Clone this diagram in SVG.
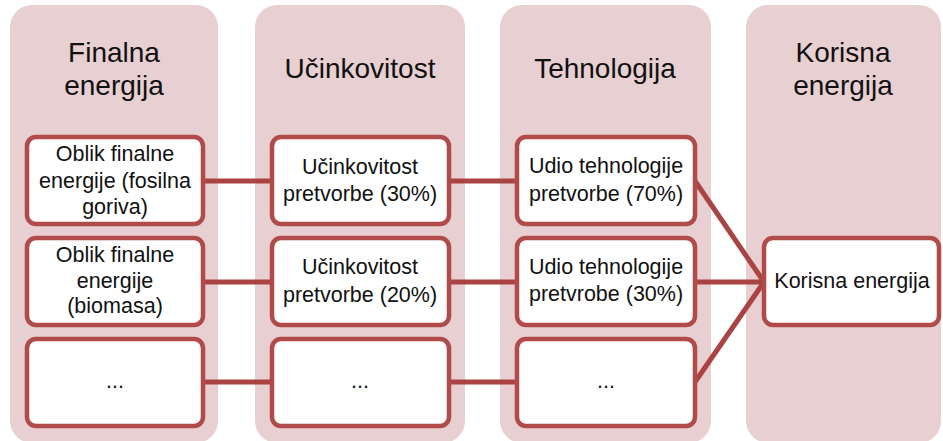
<svg xmlns="http://www.w3.org/2000/svg" width="943" height="441" viewBox="0 0 943 441">
<style>
.col{fill:#E8CFD1;}
.box{fill:#FFFFFF;stroke:#B04B49;stroke-width:4.5;}
.hd{font-family:"Liberation Sans",Arial,sans-serif;font-size:28px;fill:#111;text-anchor:middle;}
.tx{font-family:"Liberation Sans",Arial,sans-serif;font-size:21.5px;fill:#111;text-anchor:middle;}
.cn{stroke:#A94442;stroke-width:5;fill:none;stroke-linecap:butt;}
</style>
<rect width="943" height="441" fill="#FFFFFF"/>
<g id="col-finalna">
<rect class="col" x="10" y="5" width="208" height="438" rx="22"/>
<text class="hd" x="114" y="62">Finalna</text>
<text class="hd" x="114" y="95">energija</text>
</g>
<g id="col-ucinkovitost">
<rect class="col" x="255" y="5" width="210" height="438" rx="22"/>
<text class="hd" x="360" y="78">Učinkovitost</text>
</g>
<g id="col-tehnologija">
<rect class="col" x="500" y="5" width="211" height="438" rx="22"/>
<text class="hd" x="605" y="78">Tehnologija</text>
</g>
<g id="col-korisna">
<rect class="col" x="746" y="5" width="195" height="438" rx="22"/>
<text class="hd" x="843" y="62">Korisna</text>
<text class="hd" x="843" y="95">energija</text>
</g>
<g id="connectors">
<line class="cn" x1="203" y1="181" x2="272" y2="181"/>
<line class="cn" x1="449" y1="181" x2="516" y2="181"/>
<line class="cn" x1="203" y1="282" x2="272" y2="282"/>
<line class="cn" x1="449" y1="282" x2="516" y2="282"/>
<line class="cn" x1="203" y1="382" x2="272" y2="382"/>
<line class="cn" x1="449" y1="382" x2="516" y2="382"/>
<line class="cn" x1="695" y1="181" x2="764" y2="282"/>
<line class="cn" x1="695" y1="282" x2="764" y2="282"/>
<line class="cn" x1="695" y1="382" x2="764" y2="282"/>
</g>
<g id="n-fosilna">
<rect class="box" x="27" y="137" width="176" height="87" rx="9"/>
<text class="tx" x="115" y="161">Oblik finalne</text>
<text class="tx" x="115" y="188">energije (fosilna</text>
<text class="tx" x="115" y="214">goriva)</text>
</g>
<g id="n-biomasa">
<rect class="box" x="27" y="238" width="176" height="87" rx="9"/>
<text class="tx" x="115" y="262">Oblik finalne</text>
<text class="tx" x="115" y="288">energije</text>
<text class="tx" x="115" y="313">(biomasa)</text>
</g>
<g id="n-final-more">
<rect class="box" x="27" y="339" width="176" height="87" rx="9"/>
<text class="tx" x="115" y="388">...</text>
</g>
<g id="n-ucink30">
<rect class="box" x="272" y="137" width="177" height="87" rx="9"/>
<text class="tx" x="360" y="174">Učinkovitost</text>
<text class="tx" x="360" y="201">pretvorbe (30%)</text>
</g>
<g id="n-ucink20">
<rect class="box" x="272" y="238" width="177" height="87" rx="9"/>
<text class="tx" x="360" y="274">Učinkovitost</text>
<text class="tx" x="360" y="302">pretvorbe (20%)</text>
</g>
<g id="n-ucink-more">
<rect class="box" x="272" y="339" width="177" height="87" rx="9"/>
<text class="tx" x="360" y="388">...</text>
</g>
<g id="n-teh70">
<rect class="box" x="517" y="137" width="178" height="87" rx="9"/>
<text class="tx" x="606" y="173">Udio tehnologije</text>
<text class="tx" x="606" y="201">pretvorbe (70%)</text>
</g>
<g id="n-teh30">
<rect class="box" x="517" y="238" width="178" height="87" rx="9"/>
<text class="tx" x="606" y="274">Udio tehnologije</text>
<text class="tx" x="606" y="301">pretvrobe (30%)</text>
</g>
<g id="n-teh-more">
<rect class="box" x="517" y="339" width="178" height="87" rx="9"/>
<text class="tx" x="606" y="388">...</text>
</g>
<g id="n-korisna">
<rect class="box" x="764" y="238" width="175" height="87" rx="9"/>
<text class="tx" x="852" y="288">Korisna energija</text>
</g>
</svg>
